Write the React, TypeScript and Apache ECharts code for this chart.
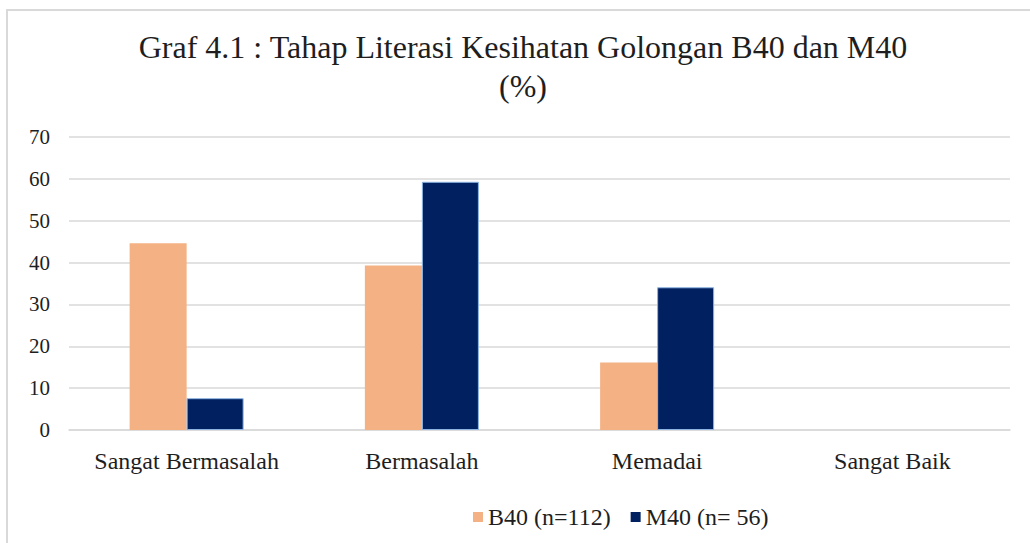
import React, { useEffect, useRef } from "react";
import * as echarts from "echarts";

const categories = ["Sangat Bermasalah", "Bermasalah", "Memadai", "Sangat Baik"];
const b40Values = [44.6, 39.3, 16.1, 0];
const m40Values = [7.6, 59.3, 34.1, 0];
const seriesNames = ["B40 (n=112)", "M40 (n= 56)"];
const titleLines = ["Graf 4.1 : Tahap Literasi Kesihatan Golongan B40 dan M40", "(%)"];

const FONT = "'Liberation Serif', 'Times New Roman', serif";
const TEXT = "#1e1e1e";

export default function App() {
  const ref = useRef<HTMLDivElement>(null);
  useEffect(() => {
    if (!ref.current) return;
    const chart = echarts.init(ref.current, null, { renderer: "svg" });
    chart.setOption({
      animation: false,
      backgroundColor: "#ffffff",
      textStyle: { fontFamily: FONT },
      graphic: [
        {
          type: "rect",
          shape: { x: 7, y: 10, width: 1040, height: 560 },
          style: { fill: "none", stroke: "#d9d9d9", lineWidth: 2 },
          silent: true,
        },
        {
          type: "text",
          x: 523,
          y: 27,
          silent: true,
          style: {
            text: titleLines.join("\n"),
            fontFamily: FONT,
            fontSize: 32,
            lineHeight: 39,
            fill: TEXT,
            align: "center",
            verticalAlign: "top",
          },
        },
      ],
      legend: {
        data: seriesNames,
        top: 500,
        left: 468,
        itemWidth: 10,
        itemHeight: 10,
        itemGap: 20,
        icon: "rect",
        itemStyle: { borderWidth: 0 },
        textStyle: { fontFamily: FONT, fontSize: 24, color: TEXT },
      },
      grid: { left: 69, right: 20, top: 137, bottom: 113 },
      xAxis: {
        type: "category",
        data: categories,
        axisLine: { lineStyle: { color: "#d9d9d9", width: 1.5 } },
        axisTick: { show: false },
        axisLabel: { interval: 0, fontFamily: FONT, fontSize: 24, color: TEXT, margin: 19 },
      },
      yAxis: {
        type: "value",
        min: 0,
        max: 70,
        interval: 10,
        axisLine: { show: false },
        axisTick: { show: false },
        splitLine: { lineStyle: { color: "#d9d9d9", width: 1.5 } },
        axisLabel: { fontFamily: FONT, fontSize: 21, color: TEXT, margin: 19 },
      },
      series: [
        {
          name: seriesNames[0],
          type: "bar",
          data: b40Values,
          barWidth: 57,
          barGap: "0%",
          itemStyle: { color: "#f4b183" },
        },
        {
          name: seriesNames[1],
          type: "bar",
          data: m40Values.map((v) =>
            v === 0 ? { value: v, itemStyle: { borderWidth: 0 } } : v
          ),
          barWidth: 57,
          itemStyle: { color: "#002060", borderColor: "#8db4e2", borderWidth: 1 },
        },
      ],
    });
    return () => chart.dispose();
  }, []);
  return (
    <div
      ref={ref}
      style={{ position: "absolute", left: 0, top: 0, width: 1030, height: 543 }}
    />
  );
}
